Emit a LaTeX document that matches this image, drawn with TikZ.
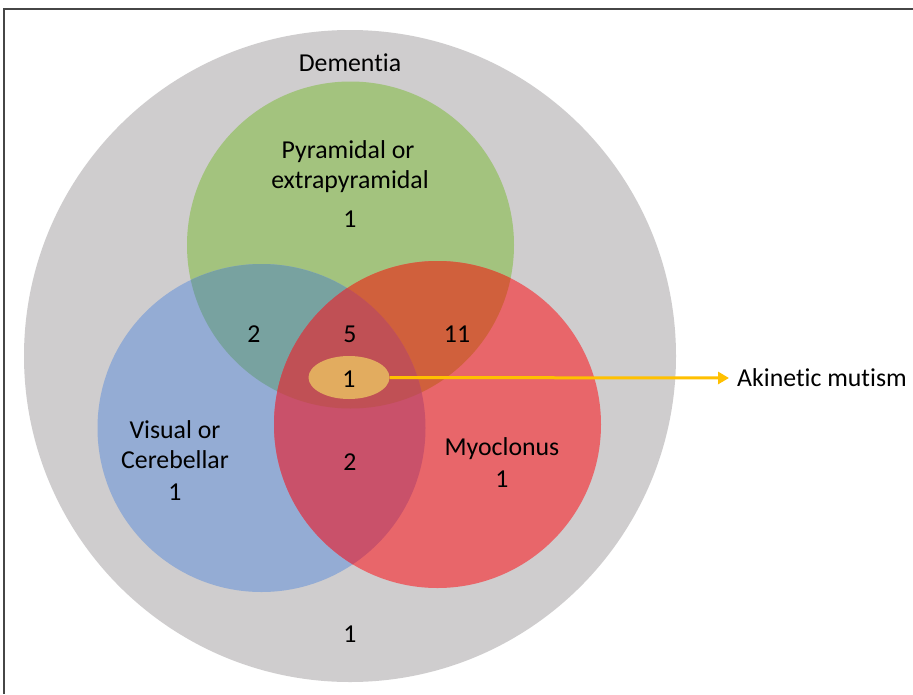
\documentclass[tikz,border=0pt]{standalone}
\usepackage{fontspec}
\setmainfont[Ligatures=NoCommon]{Carlito}
\usetikzlibrary{arrows.meta,shapes.geometric}
\definecolor{cgray}{RGB}{207,205,206}
\definecolor{cgreen}{RGB}{163,195,126}
\definecolor{cblue}{RGB}{148,172,212}
\definecolor{cred}{RGB}{232,102,106}
\definecolor{cgb}{RGB}{120,162,160}
\definecolor{cgr}{RGB}{208,96,60}
\definecolor{cbr}{RGB}{201,81,106}
\definecolor{cgbr}{RGB}{192,80,85}
\definecolor{corange}{RGB}{226,172,95}
\definecolor{carrow}{RGB}{255,192,0}
\definecolor{cframe}{RGB}{70,70,70}
\tikzset{
  lbl/.style={anchor=base, inner sep=0pt, font=\fontsize{25.8}{30}\selectfont, text=black},
  frame/.style={draw=cframe, line width=1.3pt},
  pointer/.style={draw=carrow, line width=3pt, -{Triangle[length=11pt,width=12pt]}},
}
\begin{document}
\begin{tikzpicture}[x=1pt,y=-1pt]
\useasboundingbox (0,0) rectangle (913,694);
\fill[white] (0,0) rectangle (913,694);
\coordinate (ftl) at (4,9);
\coordinate (ftr) at (913,9);
\coordinate (fbl) at (4,694);
\draw[frame] (ftr) -- (ftl) -- (fbl);
% circles
\fill[cgray] (350,356) circle[radius=326];
\fill[cgreen] (350.5,245) circle[radius=163.5];
\fill[cblue] (261.5,428) circle[radius=164];
\fill[cred] (437.5,424.5) circle[radius=163.5];
\begin{scope}
  \clip (350.5,245) circle[radius=163.5];
  \fill[cgb] (261.5,428) circle[radius=164];
\end{scope}
\begin{scope}
  \clip (350.5,245) circle[radius=163.5];
  \fill[cgr] (437.5,424.5) circle[radius=163.5];
\end{scope}
\begin{scope}
  \clip (261.5,428) circle[radius=164];
  \fill[cbr] (437.5,424.5) circle[radius=163.5];
\end{scope}
\begin{scope}
  \clip (350.5,245) circle[radius=163.5];
  \clip (261.5,428) circle[radius=164];
  \fill[cgbr] (437.5,424.5) circle[radius=163.5];
\end{scope}
% labels
\node[lbl] (dem) at (350,71) {Dementia};
\node[lbl] (pyr1) at (348,158) {Pyramidal or};
\node[lbl] (pyr2) at (350,188) {extrapyramidal};
\node[lbl] (pyrn) at (350,227) {1};
\node[lbl] (gb) at (254,342) {2};
\node[lbl] (gbr) at (350,342) {5};
\node[lbl] (gr) at (457,342) {11};
\node[lbl] (vis1) at (175,438) {Visual or};
\node[lbl] (vis2) at (175,468) {Cerebellar};
\node[lbl] (visn) at (175,500) {1};
\node[lbl] (br) at (350,470) {2};
\node[lbl] (myo1) at (502,455) {Myoclonus};
\node[lbl] (myon) at (502,487) {1};
\node[lbl] (demn) at (350,642) {1};
% akinetic mutism
\node[ellipse, fill=corange, minimum width=81pt, minimum height=43pt, inner sep=0pt] (ak) at (349,377.5) {};
\node[lbl] (akn) at (349,387) {1};
\node[anchor=west, inner xsep=8pt, inner ysep=0pt, font=\fontsize{25.8}{30}\selectfont] (akin) at (729,378) {Akinetic mutism};
\draw[pointer] (ak.east) -- (akin.west);
\end{tikzpicture}
\end{document}
